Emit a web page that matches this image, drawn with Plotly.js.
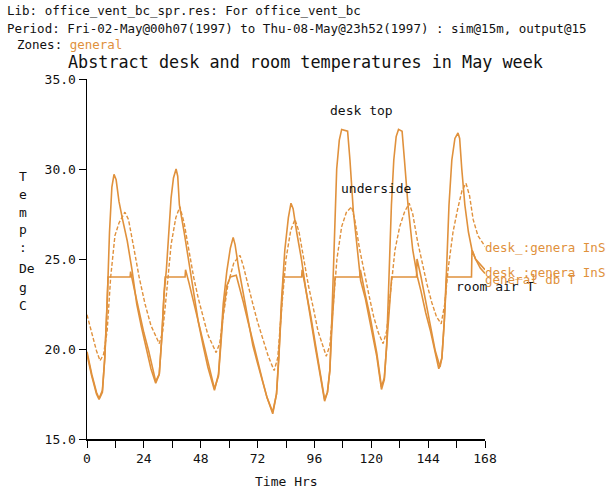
<!DOCTYPE html>
<html>
<head>
<meta charset="utf-8">
<script src="https://cdn.plot.ly/plotly-3.0.1.min.js"></script>
<style>
html,body{margin:0;padding:0;background:#fff;}
#chart{width:616px;height:491px;}
</style>
</head>
<body>
<div id="chart"></div>
<script>
// ---- data (hours, deg C) ----
const deskTopHours = [0,2,4,5.1,6.5,7.5,8.5,9.5,10.5,11.4,12.3,13.5,15,17,19,21,23,25,27,29,
  30.5,31.5,32.5,33.5,34.5,35.5,36.5,37.6,38.3,39,41,43,45,47,49,51,53.8,
  55.5,56.5,57.5,59,60.5,61.7,62.5,64,66,68,70,72,74,76,78.4,
  80,81,82,83.5,85,86.1,87,88.5,90.5,92.5,94.5,96.5,98.5,100.3,
  101.5,102.5,103.3,104.3,105.4,106.5,107.5,110,111,112.4,114,115.5,117.5,119.5,122.3,124.3,
  125.5,126.5,127.5,128.5,129.5,130.5,131.5,133,134,135.5,137.5,139.5,141,143,145,147,148.5,
  149.8,150.8,151.8,152.8,154,155.3,156.6,157.3,158.2,159.5,161,162.5,164,166,168];
const deskTop = [19.85,18.6,17.6,17.25,17.7,19.5,22.5,26.5,29.0,29.7,29.4,28.2,27.2,26.0,24.4,22.5,21.2,20.0,18.9,18.1,
  18.6,20.5,23.0,24.4,26.5,28.4,29.5,30.0,29.6,28.0,26.5,24.8,23.0,21.5,20.2,19.0,17.7,
  18.6,20.5,22.5,24.3,25.6,26.2,25.8,24.5,23.0,21.5,20.2,19.2,18.3,17.3,16.4,
  17.5,19.5,22.5,25.5,27.3,28.1,27.8,26.5,25.0,23.2,21.5,20.0,18.5,17.1,
  17.6,18.8,21.5,25.5,30.0,31.6,32.2,32.1,30.5,27.7,25.5,23.8,22.8,21.5,19.6,17.75,
  18.3,20.2,24.0,28.0,30.5,31.8,32.2,32.1,30.5,28.0,25.5,24.0,23.2,22.0,21.0,19.8,18.9,
  19.5,21.5,24.5,28.0,30.5,31.7,32.0,31.7,30.0,28.0,26.5,25.5,25.0,24.7,24.4];

const undersideHours = [0,2,4,5.5,7,8.5,10,11.8,13.5,16,17.5,19.5,22,24.5,27,30.5,
  32,33.5,35.5,37.5,39.2,41,43,45,47,49,51,54.5,
  56,57.5,59.5,62,64.6,66,68,70,72,74,76.5,79,
  80.5,82,84,86,87.8,89.5,91.5,93.5,95.5,97.5,101,
  102.5,104,105.5,107.5,109.5,111.7,113,115,117,119,121,123,125,
  126.5,128,130,132,134,136,137.5,139.5,141.5,143.5,145.5,147.5,149.5,
  151,152.5,154.5,156.5,158.3,160,161.5,163,165,168];
const underside = [21.9,20.9,19.9,19.35,19.7,21.0,24.0,26.3,27.0,27.6,27.2,25.8,24.0,22.5,21.3,20.3,
  21.0,23.0,25.8,27.3,27.9,27.0,25.5,24.0,22.8,21.8,20.8,19.8,
  20.3,21.8,23.6,24.8,25.2,24.6,23.5,22.5,21.5,20.6,19.6,18.8,
  19.5,22.0,25.0,26.6,27.2,26.5,25.0,23.5,22.3,21.0,19.6,
  20.2,22.5,25.0,26.8,27.6,27.9,27.2,25.6,24.2,23.0,21.8,20.9,20.3,
  21.0,23.0,25.5,26.8,27.6,28.1,27.5,26.0,24.8,23.6,22.6,21.8,21.4,
  22.5,24.5,26.5,27.8,28.8,29.2,28.5,27.2,26.3,25.7];

const roomAirHours = [0,2,4,5.1,6.5,7.5,8.3,8.9,18.2,18.4,20,22,24,26,28,29,
  30.5,31.5,32.5,33,41.4,41.6,43,45,47,49,51,53.8,
  55.5,56.5,57.5,59,60.5,63,64.5,66,68,70,72,74,76,78.4,
  80,81,82,82.9,90.6,90.8,92.5,94.5,96.5,98.5,100.3,
  101.5,102.5,103.3,104.7,115.2,115.4,117.5,119.5,122.3,124.3,
  125.5,126.5,127.5,128.6,139.1,139.3,141,143,145,147,149,
  149.8,150.8,151.8,162.3,162.5,164,166,168];
const roomAir = [19.7,18.5,17.5,17.2,17.6,19.5,22.0,24.0,24.0,24.3,23.3,22.0,20.9,19.9,18.7,18.2,
  18.6,20.5,23.0,24.0,24.0,24.4,23.7,22.6,21.5,20.3,19.2,17.8,
  18.5,20.3,22.0,23.5,24.0,24.1,23.4,22.6,21.5,20.4,19.3,18.3,17.3,16.5,
  17.5,19.5,22.0,24.0,24.0,24.4,23.3,21.8,20.2,18.6,17.2,
  17.6,18.8,21.0,24.0,24.0,24.4,23.0,21.8,19.8,17.9,
  18.4,20.3,22.5,24.0,24.0,25.0,24.0,22.6,21.2,19.9,19.0,
  19.5,21.5,24.0,24.0,25.5,25.0,24.5,24.2];

const xTickVals = [0,24,48,72,96,120,144,168];
const yTickVals = [15,20,25,30,35];
const seriesNames = ['desk_:genera InS','desk_:genera InS','general db T'];

// ---- styling helpers ----
const ORANGE = '#e0913c';
const MONO = 'DejaVu Sans Mono, Liberation Mono, monospace';
const W = 616, H = 491, L = 87, R = 485, T = 79, B = 439;
function px(x){ return (x - L) / (R - L); }
function py(y){ return (B - y) / (B - T); }
function ann(text, x, y, opts){
  return Object.assign({text: text, xref:'paper', yref:'paper', x: px(x), y: py(y),
    xanchor:'left', yanchor:'middle', showarrow:false,
    font:{family:MONO, size:13, color:'#111'}}, opts || {});
}

const traces = [
  {x: deskTopHours, y: deskTop, name: seriesNames[0], mode:'lines',
   line:{color:ORANGE, width:1.6}},
  {x: undersideHours, y: underside, name: seriesNames[1], mode:'lines',
   line:{color:ORANGE, width:1.4, dash:'4px,2px'}},
  {x: roomAirHours, y: roomAir, name: seriesNames[2], mode:'lines',
   line:{color:ORANGE, width:1.6}}
];

const annotations = [
  ann('Lib: office_vent_bc_spr.res: For office_vent_bc', 5, 10, {font:{family:MONO,size:12.5,color:'#111'}}),
  ann('Period: Fri-02-May@00h07(1997) to Thu-08-May@23h52(1997) : sim@15m, output@15', 5, 28, {font:{family:MONO,size:12.5,color:'#111'}}),
  ann('Zones: <span style="color:' + ORANGE + '">general</span>', 15, 45, {font:{family:MONO,size:12.5,color:'#111'}}),
  ann('Abstract desk and room temperatures in May week', 66, 62, {font:{family:MONO,size:16.8,color:'#111'}}),
  ann('desk top', 328, 110),
  ann('underside', 339, 188),
  ann('room air T', 454, 286),
  ann(seriesNames[0], 483, 247, {font:{family:MONO,size:12.5,color:ORANGE}}),
  ann(seriesNames[1], 483, 272, {font:{family:MONO,size:12.5,color:ORANGE}}),
  ann(seriesNames[2], 483, 279, {font:{family:MONO,size:12.5,color:ORANGE}}),
  ann('Time Hrs', 286, 481, {xanchor:'center'})
];
const yTitleChars = [['T',176],['e',194],['m',212],['p',229],[':',247],['De',268],['g',287],['C',305]];
yTitleChars.forEach(function(c){
  annotations.push(ann(c[0], 22, c[1], {xanchor: c[0].length > 1 ? 'left' : 'center', x: c[0].length > 1 ? px(17) : px(23)}));
});

const layout = {
  width: W, height: H,
  margin: {l: L, r: W - R, t: T, b: H - B, pad: 0},
  paper_bgcolor: '#fff', plot_bgcolor: '#fff',
  showlegend: false,
  xaxis: {range:[0,168], tickvals: xTickVals, ticktext: xTickVals.map(String),
    showgrid:false, zeroline:false, showline:true, linecolor:'#000', linewidth:1.5,
    ticks:'outside', ticklen:7, tickcolor:'#000', tickwidth:1,
    minor:{dtick:12, tick0:0, ticks:'outside', ticklen:7, tickcolor:'#000'},
    tickfont:{family:MONO, size:13, color:'#111'}, fixedrange:true},
  yaxis: {range:[15,35], tickvals: yTickVals, ticktext: yTickVals.map(function(v){return v.toFixed(1);}),
    showgrid:false, zeroline:false, showline:true, linecolor:'#000', linewidth:1.5,
    ticks:'outside', ticklen:7, tickcolor:'#000', tickwidth:1,
    tickfont:{family:MONO, size:13, color:'#111'}, fixedrange:true},
  annotations: annotations
};

Plotly.newPlot('chart', traces, layout, {staticPlot:true, displayModeBar:false});
</script>
</body>
</html>
